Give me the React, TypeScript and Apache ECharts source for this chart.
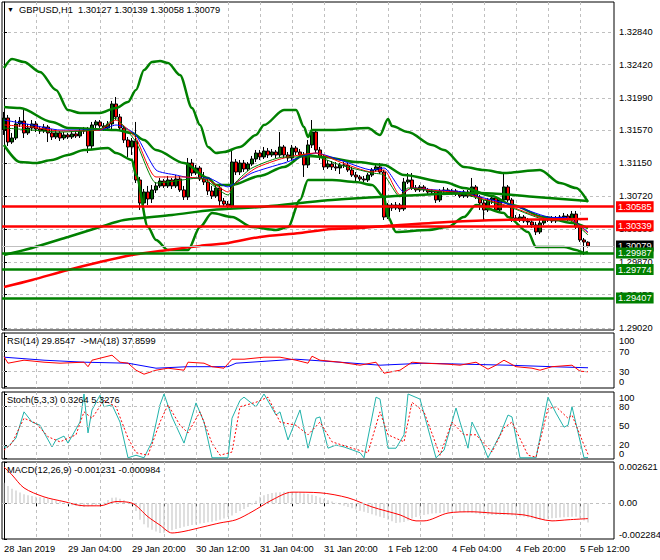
import React, { useEffect, useRef } from "react";
import * as echarts from "echarts";

const FONT = '"Liberation Sans", Arial, Helvetica, sans-serif';
const FS = 9.3;

const priceTicks = [1.2902, 1.2945, 1.2987, 1.303, 1.3072, 1.3115, 1.3157, 1.3199, 1.3242, 1.3284];
const timeLabelIdx = [0, 16, 32, 48, 64, 80, 96, 112, 128, 144];
const timeLabels = ["28 Jan 2019", "29 Jan 04:00", "29 Jan 20:00", "30 Jan 12:00", "31 Jan 04:00", "31 Jan 20:00", "1 Feb 12:00", "4 Feb 04:00", "4 Feb 20:00", "5 Feb 12:00"];
const gridIdx = [8, 16, 24, 32, 40, 48, 56, 64, 72, 80, 88, 96, 104, 112, 120, 128, 136, 144];

// [open, close, low, high] per H1 bar
const candles = [
[1.31575,1.31730,1.31511,1.31808],[1.31730,1.31420,1.31369,1.31769],[1.31420,1.31472,1.31395,1.31537],[1.31472,1.31653,1.31446,1.31704],
[1.31653,1.31691,1.31614,1.31743],[1.31691,1.31537,1.31472,1.31833],[1.31537,1.31601,1.31511,1.31653],[1.31601,1.31653,1.31562,1.31704],
[1.31653,1.31588,1.31549,1.31691],[1.31588,1.31562,1.31524,1.31627],[1.31562,1.31614,1.31537,1.31653],[1.31614,1.31537,1.31420,1.31640],
[1.31537,1.31485,1.31446,1.31588],[1.31485,1.31537,1.31459,1.31575],[1.31537,1.31472,1.31433,1.31562],[1.31472,1.31511,1.31446,1.31549],
[1.31511,1.31485,1.31459,1.31537],[1.31485,1.31524,1.31459,1.31562],[1.31524,1.31498,1.31472,1.31549],[1.31498,1.31562,1.31472,1.31601],
[1.31562,1.31575,1.31524,1.31614],[1.31575,1.31369,1.31278,1.31614],[1.31369,1.31640,1.31330,1.31679],[1.31640,1.31679,1.31601,1.31704],
[1.31679,1.31627,1.31601,1.31704],[1.31627,1.31601,1.31562,1.31666],[1.31601,1.31653,1.31575,1.31691],[1.31653,1.31911,1.31562,1.31950],
[1.31911,1.31743,1.31704,1.32001],[1.31743,1.31601,1.31562,1.31782],[1.31601,1.31446,1.31408,1.31627],[1.31446,1.31356,1.31227,1.31485],
[1.31356,1.31433,1.31253,1.31472],[1.31433,1.30930,1.30891,1.31679],[1.30930,1.30633,1.30543,1.30969],[1.30633,1.30775,1.30569,1.30814],
[1.30775,1.30685,1.30607,1.30853],[1.30685,1.30801,1.30633,1.30865],[1.30801,1.30853,1.30762,1.30904],[1.30853,1.30917,1.30827,1.30956],
[1.30917,1.30853,1.30827,1.30943],[1.30853,1.30930,1.30827,1.30982],[1.30930,1.30853,1.30814,1.30956],[1.30853,1.30943,1.30827,1.30994],
[1.30943,1.30801,1.30775,1.30982],[1.30801,1.30711,1.30672,1.30853],[1.30711,1.31149,1.30672,1.31214],[1.31149,1.31020,1.30982,1.31201],
[1.31020,1.31085,1.30994,1.31124],[1.31085,1.30943,1.30917,1.31111],[1.30943,1.30904,1.30865,1.31033],[1.30904,1.30788,1.30736,1.30943],
[1.30788,1.30723,1.30685,1.30853],[1.30723,1.30827,1.30698,1.30865],[1.30827,1.30659,1.30581,1.30853],[1.30659,1.30620,1.30594,1.30698],
[1.30620,1.30594,1.30569,1.30659],[1.30594,1.31162,1.30569,1.31317],[1.31162,1.31033,1.30994,1.31201],[1.31033,1.31149,1.30994,1.31188],
[1.31149,1.31072,1.31033,1.31188],[1.31072,1.31136,1.31046,1.31162],[1.31136,1.31201,1.31111,1.31240],[1.31201,1.31278,1.31162,1.31317],
[1.31278,1.31227,1.31188,1.31317],[1.31227,1.31304,1.31201,1.31356],[1.31304,1.31253,1.31214,1.31343],[1.31253,1.31291,1.31227,1.31330],
[1.31291,1.31253,1.31214,1.31317],[1.31253,1.31356,1.31227,1.31549],[1.31356,1.31253,1.31214,1.31382],[1.31253,1.31214,1.31175,1.31291],
[1.31214,1.31343,1.31188,1.31382],[1.31343,1.31291,1.31253,1.31369],[1.31291,1.31253,1.31214,1.31330],[1.31253,1.31124,1.30969,1.31291],
[1.31124,1.31382,1.31085,1.31446],[1.31382,1.31549,1.31343,1.31704],[1.31549,1.31317,1.31278,1.31575],[1.31317,1.31227,1.31188,1.31356],
[1.31227,1.31098,1.31059,1.31253],[1.31098,1.31136,1.31072,1.31188],[1.31136,1.31098,1.31059,1.31175],[1.31098,1.31085,1.31046,1.31162],
[1.31085,1.31124,1.31007,1.31149],[1.31124,1.31120,1.31085,1.31162],[1.31120,1.31059,1.31033,1.31149],[1.31059,1.30994,1.30969,1.31098],
[1.30994,1.30969,1.30891,1.31033],[1.30969,1.30943,1.30917,1.30994],[1.30943,1.30930,1.30904,1.30982],[1.30930,1.30994,1.30904,1.31020],
[1.30994,1.31059,1.30969,1.31085],[1.31059,1.31098,1.31033,1.31124],[1.31098,1.31033,1.31007,1.31149],[1.31033,1.30452,1.30414,1.31059],
[1.30452,1.30607,1.30427,1.30633],[1.30607,1.30569,1.30530,1.30633],[1.30569,1.30607,1.30543,1.30646],[1.30607,1.30556,1.30517,1.30633],
[1.30556,1.30904,1.30530,1.30956],[1.30904,1.30930,1.30878,1.31020],[1.30930,1.30827,1.30801,1.31020],[1.30827,1.30801,1.30775,1.30865],
[1.30801,1.30840,1.30775,1.30865],[1.30840,1.30801,1.30775,1.30865],[1.30801,1.30775,1.30749,1.30827],[1.30775,1.30788,1.30749,1.30814],
[1.30788,1.30672,1.30633,1.30801],[1.30672,1.30788,1.30646,1.30814],[1.30788,1.30801,1.30762,1.30840],[1.30801,1.30762,1.30736,1.30827],
[1.30762,1.30788,1.30736,1.30814],[1.30788,1.30749,1.30723,1.30814],[1.30749,1.30723,1.30698,1.30788],[1.30723,1.30775,1.30698,1.30801],
[1.30775,1.30723,1.30698,1.30801],[1.30723,1.30840,1.30711,1.30956],[1.30840,1.30711,1.30685,1.30865],[1.30711,1.30633,1.30543,1.30736],
[1.30633,1.30543,1.30414,1.30672],[1.30543,1.30672,1.30517,1.30698],[1.30672,1.30698,1.30620,1.30736],[1.30698,1.30543,1.30517,1.30723],
[1.30543,1.30672,1.30517,1.30698],[1.30672,1.30840,1.30646,1.31033],[1.30840,1.30672,1.30646,1.30865],[1.30672,1.30440,1.30388,1.30698],
[1.30440,1.30414,1.30388,1.30478],[1.30414,1.30452,1.30388,1.30491],[1.30452,1.30401,1.30375,1.30478],[1.30401,1.30388,1.30349,1.30440],
[1.30388,1.30349,1.30310,1.30414],[1.30349,1.30259,1.30220,1.30388],[1.30259,1.30375,1.30233,1.30414],[1.30375,1.30414,1.30349,1.30452],
[1.30414,1.30440,1.30388,1.30465],[1.30440,1.30401,1.30375,1.30465],[1.30401,1.30440,1.30375,1.30465],[1.30440,1.30452,1.30401,1.30478],
[1.30452,1.30465,1.30427,1.30504],[1.30465,1.30427,1.30401,1.30491],[1.30427,1.30491,1.30401,1.30530],[1.30491,1.30323,1.30298,1.30530],
[1.30323,1.30156,1.30130,1.30349],[1.30156,1.30130,1.29962,1.30181],[1.30127,1.30079,1.30058,1.30139]
];

// [bar index, price] samples of the indicator lines
const bbUpper = [[0,1.32375],[2,1.32492],[5,1.32453],[9,1.32324],[13,1.32092],[16,1.31833],[19,1.31795],[24,1.31795],[28,1.31859],[31,1.31937],[33,1.32092],[35,1.3235],[37,1.32453],[39,1.32466],[41,1.3244],[44,1.32285],[47,1.31859],[49,1.3164],[51,1.31356],[53,1.31278],[55,1.31291],[59,1.31356],[63,1.31511],[65,1.3164],[70,1.31833],[73,1.31833],[75,1.31614],[76,1.31485],[77,1.31575],[82,1.31575],[91,1.31601],[94,1.31511],[96,1.31717],[97,1.31627],[101,1.31549],[107,1.31382],[110,1.31317],[115,1.31098],[120,1.31059],[125,1.3102],[134,1.31059],[139,1.30891],[143,1.30827],[146,1.30646]];
const bbMiddle = [[0,1.31872],[4,1.31859],[12,1.31679],[16,1.31601],[28,1.31575],[32,1.31537],[35,1.31446],[38,1.31317],[45,1.31149],[51,1.30956],[53,1.30865],[57,1.30865],[64,1.30982],[70,1.31098],[75,1.31253],[80,1.31227],[88,1.31162],[95,1.31124],[100,1.30994],[110,1.30904],[115,1.30827],[122,1.30723],[127,1.30607],[135,1.30452],[142,1.30375],[146,1.3031]];
const bbLower = [[0,1.31382],[4,1.31162],[8,1.31149],[12,1.31188],[16,1.31253],[20,1.31317],[26,1.31343],[28,1.31278],[32,1.31188],[33,1.30994],[36,1.30323],[38,1.30156],[41,1.30027],[46,1.30027],[49,1.30323],[52,1.30504],[57,1.30452],[62,1.30323],[68,1.30285],[71,1.30323],[74,1.30672],[76,1.3093],[82,1.3093],[88,1.30904],[92,1.30865],[95,1.30711],[96,1.30452],[98,1.30259],[106,1.30285],[111,1.30323],[115,1.30452],[118,1.30607],[125,1.30504],[126,1.30452],[131,1.30259],[133,1.30066],[140,1.30066],[143,1.30027],[145,1.29988],[146,1.30001]];
const maLongGreen = [[0,1.29962],[7,1.30053],[16,1.30195],[24,1.30323],[30,1.30414],[42,1.30478],[52,1.30543],[64,1.30581],[74,1.30633],[82,1.30672],[94,1.30711],[119,1.30762],[133,1.30711],[146,1.30659]];
const maLongRed = [[0,1.29549],[7,1.2964],[16,1.29769],[24,1.29872],[32,1.29962],[41,1.30027],[49,1.30079],[56,1.30117],[64,1.30195],[74,1.30246],[82,1.30298],[89,1.3031],[99,1.30349],[111,1.30388],[124,1.30414],[146,1.30427]];
const maBlue = [[0,1.31704],[7,1.3164],[14,1.31575],[24,1.31575],[28,1.3164],[30,1.31614],[33,1.31511],[38,1.31059],[43,1.30994],[47,1.30956],[51,1.30956],[56,1.3084],[57,1.30865],[62,1.3102],[70,1.31149],[78,1.31278],[84,1.31188],[92,1.31059],[95,1.31085],[100,1.30775],[102,1.30827],[108,1.30801],[115,1.30775],[119,1.30711],[127,1.30607],[136,1.30452],[141,1.3044],[146,1.30259]];
const maRed = [[0,1.3164],[7,1.31614],[14,1.31562],[24,1.31575],[28,1.31704],[30,1.31627],[33,1.31472],[38,1.30969],[45,1.30969],[51,1.3093],[56,1.30775],[58,1.30891],[63,1.31085],[70,1.31214],[78,1.31278],[84,1.31162],[92,1.31033],[95,1.31059],[99,1.30736],[102,1.30827],[109,1.30788],[115,1.30762],[119,1.30698],[127,1.30581],[136,1.30427],[141,1.30427],[146,1.30246]];
const maGreen = [[0,1.31601],[7,1.31575],[14,1.31549],[24,1.31588],[28,1.3173],[30,1.31614],[33,1.3142],[38,1.30891],[41,1.30904],[49,1.30956],[56,1.30736],[58,1.30904],[62,1.31085],[70,1.31227],[78,1.31227],[84,1.31124],[92,1.3102],[95,1.30994],[99,1.30711],[101,1.30827],[109,1.30775],[115,1.30749],[119,1.30685],[127,1.30569],[136,1.30414],[141,1.30414],[146,1.3022]];

const redLevels = [1.30585, 1.30339];
const greenLevels = [1.29987, 1.29774, 1.29407];
const bidPrice = 1.30079;

const rsiLine = [[0,60],[1,47],[5,53],[10,49],[14,47],[20,49],[21,40],[22,53],[27,63],[29,49],[31,47],[33,33],[35,25],[38,33],[41,37],[45,33],[46,49],[50,47],[52,40],[55,37],[57,55],[60,55],[65,59],[69,59],[73,53],[76,47],[77,61],[79,53],[84,49],[89,43],[93,49],[95,27],[99,33],[102,49],[105,47],[111,45],[114,43],[118,49],[121,35],[123,43],[125,53],[128,40],[132,37],[134,33],[137,40],[142,43],[144,31],[146,29.85]];
const rsiMa = [[0,59],[10,53],[20,49],[31,47],[38,37],[46,40],[56,40],[58,47],[73,55],[84,49],[94,43],[105,47],[115,45],[126,43],[137,40],[146,37.86]];
const rsiLevels = [30, 70];
const rsiTicks = [0, 30, 70, 100];

const stochMain = [[0,17],[1,17],[3,31],[5,72],[7,56],[9,51],[12,17],[13,28],[15,34],[16,23],[19,56],[20,100],[21,39],[22,75],[24,98],[25,80],[27,83],[29,56],[31,0],[33,4],[35,0],[37,25],[39,83],[40,100],[42,64],[45,23],[48,86],[50,56],[52,0],[56,0],[57,62],[59,90],[60,95],[63,80],[65,100],[68,67],[69,72],[71,28],[74,75],[76,15],[78,62],[79,64],[81,15],[83,20],[85,17],[89,8],[90,0],[93,95],[94,92],[96,15],[98,15],[100,36],[101,100],[104,92],[108,0],[110,12],[113,78],[114,56],[116,15],[117,56],[119,31],[121,0],[124,36],[126,67],[127,64],[129,0],[133,0],[136,95],[138,70],[140,48],[141,51],[142,80],[145,0],[146,0.33]];
const stochSignal = [[0,12],[2,23],[5,62],[8,54],[11,33],[14,25],[18,36],[20,72],[22,62],[25,90],[28,80],[31,31],[33,8],[36,4],[39,56],[41,83],[44,51],[46,39],[49,72],[52,23],[54,4],[57,9],[59,80],[63,87],[66,95],[69,56],[73,51],[76,36],[79,56],[82,25],[87,15],[91,8],[94,72],[96,36],[100,25],[102,87],[105,72],[109,4],[112,56],[115,36],[118,36],[122,9],[125,47],[127,56],[131,4],[133,1],[136,77],[138,80],[141,62],[142,67],[145,20],[146,5.33]];
const stochLevels = [20, 50, 80];
const stochTicks = [0, 20, 50, 80, 100];

const macdHist = [
0.0013,0.0011,0.00092,0.0008,0.00068,0.00056,0.0005,0.00045,0.0004,0.00037,
0.00034,0.0003,0.00024,0.00016,0.0001,0.00002,-0.00008,-0.00014,-0.00018,-0.00022,
-0.00024,-0.00022,-0.00018,-0.00014,-0.0001,0.00004,0.0002,0.00034,0.00036,0.00028,
0.0002,0.00008,-0.0001,-0.0005,-0.00106,-0.00135,-0.00155,-0.0017,-0.0018,-0.0019,
-0.00188,-0.0018,-0.00172,-0.00165,-0.00158,-0.0015,-0.00145,-0.0014,-0.00136,-0.0013,
-0.00126,-0.00122,-0.00118,-0.00112,-0.00106,-0.00098,-0.00088,-0.00078,-0.00063,-0.0005,
-0.00038,-0.00024,-0.0001,0.00015,0.0004,0.0005,0.00058,0.00064,0.00068,0.0007,
0.00072,0.00072,0.00071,0.0007,0.00066,0.00062,0.00058,0.00053,0.00045,0.00036,
0.00026,0.00018,0.0001,0.00002,-0.00008,-0.00016,-0.00024,-0.00032,-0.0004,-0.00048,
-0.00055,-0.00062,-0.0007,-0.00078,-0.00087,-0.00095,-0.00105,-0.00116,-0.00126,-0.00124,
-0.0012,-0.0011,-0.00098,-0.00088,-0.0008,-0.00075,-0.0007,-0.00066,-0.00064,-0.00063,
-0.0006,-0.00058,-0.00056,-0.00055,-0.00056,-0.00058,-0.0006,-0.00063,-0.00066,-0.0007,
-0.00072,-0.00074,-0.00075,-0.00075,-0.00075,-0.00075,-0.00075,-0.00078,-0.00082,-0.00085,
-0.00087,-0.00092,-0.00098,-0.00102,-0.00106,-0.00104,-0.001,-0.00096,-0.00094,-0.00092,
-0.0009,-0.00088,-0.00087,-0.00087,-0.00095,-0.0011,-0.001231
];
const macdSignal = [[0,0.0023],[2,0.0018],[5,0.00097],[10,0.0004],[15,0.0001],[20,-0.00017],[24,-0.00017],[28,0.0001],[32,0],[36,-0.00087],[39,-0.0014],[42,-0.0019],[45,-0.0018],[50,-0.0015],[54,-0.00126],[58,-0.00106],[62,-0.00055],[67,0.0002],[72,0.0007],[79,0.00066],[86,0.00034],[92,-0.00024],[99,-0.00075],[103,-0.00113],[105,-0.00113],[111,-0.00063],[117,-0.00055],[122,-0.00063],[130,-0.00075],[137,-0.00113],[141,-0.00106],[146,-0.000984]];
const macdTicks = [-0.002284, 0, 0.002621];

const GRID_LINE = { color: "#C0C0C0", type: [3, 3] as any, width: 1 };

function line(data: any, color: string, width: number, idx: number, extra: any = {}) {
  return {
    type: "line", data, xAxisIndex: idx, yAxisIndex: idx, showSymbol: false, symbol: "none",
    lineStyle: { color, width }, itemStyle: { color }, silent: true, animation: false, ...extra,
  };
}

function levelLine(values: number[], lineColor: string, boxColor: string, width: number) {
  return {
    silent: true, symbol: ["none", "none"], animation: false, precision: 5,
    data: values.map((v) => ({ yAxis: v })),
    lineStyle: { color: lineColor, width, type: "solid" },
    emphasis: { disabled: true },
    label: {
      show: true, position: "end", distance: 2,
      formatter: (p: any) => Number(p.value).toFixed(5),
      color: "#fff", backgroundColor: boxColor, padding: [1, 2, 0, 2],
      fontSize: FS, fontFamily: FONT, lineHeight: 10,
    },
  };
}

function dashedLevels(values: number[]) {
  return {
    silent: true, symbol: ["none", "none"], animation: false, precision: 6,
    data: values.map((v) => ({ yAxis: v })),
    lineStyle: GRID_LINE, label: { show: false }, emphasis: { disabled: true },
  };
}

function buildOption() {
  const grids = [
    { top: 2, height: 328 },
    { top: 333, height: 55 },
    { top: 392, height: 67 },
    { top: 462, height: 77 },
  ].map((g) => ({
    left: 2, width: 612, top: g.top, height: g.height, show: true,
    borderColor: "#000", borderWidth: 1, backgroundColor: "#fff", outerBoundsMode: "none", containLabel: false,
  }));

  const xAxes = [0, 1, 2, 3].map((k) => ({
    type: "value", gridIndex: k, min: -0.5, max: 152.5, interval: 8,
    axisLine: { show: false },
    axisTick: { show: k === 3, customValues: gridIdx, length: 3, lineStyle: { color: "#000" } },
    axisLabel: k === 3
      ? {
          show: true, customValues: timeLabelIdx, align: "left", margin: 5, color: "#000",
          fontSize: FS, fontFamily: FONT, hideOverlap: false, showMinLabel: true, showMaxLabel: true,
          formatter: (v: number) => timeLabels[timeLabelIdx.indexOf(Math.round(v))] ?? "",
        }
      : { show: false },
    splitLine: { show: true, lineStyle: GRID_LINE },
  }));

  const labelBase = {
    color: "#000", fontSize: FS, fontFamily: FONT, margin: 5, hideOverlap: false,
    showMinLabel: true, showMaxLabel: true,
  };
  const yAxes = [
    {
      type: "value", gridIndex: 0, position: "right", min: 1.28994, max: 1.33227,
      axisLine: { show: true, lineStyle: { color: "#000" } },
      axisTick: { show: true, length: 3, customValues: priceTicks, lineStyle: { color: "#000" } },
      axisLabel: { ...labelBase, customValues: priceTicks, formatter: (v: number) => v.toFixed(5) },
      splitLine: { show: true, lineStyle: GRID_LINE },
    },
    {
      type: "value", gridIndex: 1, position: "right", min: -2.6, max: 107.4,
      axisLine: { show: true, lineStyle: { color: "#000" } },
      axisTick: { show: true, length: 3, customValues: rsiTicks, lineStyle: { color: "#000" } },
      axisLabel: { ...labelBase, customValues: rsiTicks, verticalAlignMinLabel: "bottom", verticalAlignMaxLabel: "top", formatter: (v: number) => String(Math.round(v)) },
      splitLine: { show: false },
    },
    {
      type: "value", gridIndex: 2, position: "right", min: -1.9, max: 103.1,
      axisLine: { show: true, lineStyle: { color: "#000" } },
      axisTick: { show: true, length: 3, customValues: stochTicks, lineStyle: { color: "#000" } },
      axisLabel: {
        ...labelBase, customValues: stochTicks, lineHeight: 7.5,
        verticalAlignMinLabel: "bottom", verticalAlignMaxLabel: "top",
        formatter: (v: number) => String(Math.round(v)),
      },
      splitLine: { show: false },
    },
    {
      type: "value", gridIndex: 3, position: "right", min: -0.002284, max: 0.002621,
      axisLine: { show: true, lineStyle: { color: "#000" } },
      axisTick: { show: true, length: 3, customValues: macdTicks, lineStyle: { color: "#000" } },
      axisLabel: {
        ...labelBase, customValues: macdTicks, verticalAlignMinLabel: "bottom", verticalAlignMaxLabel: "top",
        formatter: (v: number) => (Math.abs(v) < 1e-9 ? "0.00" : v.toFixed(6)),
      },
      splitLine: { show: false },
    },
  ];

  const titleStyle = { fontSize: FS, fontWeight: "normal", color: "#000", fontFamily: FONT };

  return {
    animation: false,
    backgroundColor: "#fff",
    textStyle: { fontFamily: FONT, fontSize: FS },
    title: [
      {
        text: "{t|▼}  GBPUSD,H1  1.30127 1.30139 1.30058 1.30079", left: 7, top: 5, padding: 0,
        textStyle: { ...titleStyle, rich: { t: { fontSize: 7, color: "#000", fontFamily: FONT } } },
      },
      { text: "RSI(14) 29.8547  ->MA(18) 37.8599", left: 7, top: 336, padding: 0, textStyle: titleStyle },
      { text: "Stoch(5,3,3) 0.3264 5.3276", left: 7, top: 395, padding: 0, textStyle: titleStyle },
      { text: "MACD(12,26,9) -0.001231 -0.000984", left: 7, top: 465, padding: 0, textStyle: titleStyle },
    ],
    grid: grids,
    xAxis: xAxes,
    yAxis: yAxes,
    series: [
      {
        type: "candlestick", xAxisIndex: 0, yAxisIndex: 0, silent: true, animation: false,
        data: candles.map((c, i) => [i, c[0], c[1], c[2], c[3]]),
        barWidth: 3,
        itemStyle: { color: "#006400", color0: "#FF0000", borderColor: "#000", borderColor0: "#000", borderWidth: 1 },
        markLine: levelLine([bidPrice], "#C0C0C0", "#000", 1),
      },
      line(bbUpper, "#008000", 2.5, 0, { smooth: 0.3, smoothMonotone: "x" }),
      line(bbMiddle, "#008000", 2.5, 0, { smooth: 0.3, smoothMonotone: "x" }),
      line(bbLower, "#008000", 2.5, 0, { smooth: 0.3, smoothMonotone: "x" }),
      line(maBlue, "#0000FF", 1, 0, { smooth: 0.2 }),
      line(maRed, "#FF0000", 1, 0, { smooth: 0.2 }),
      line(maGreen, "#008000", 1, 0, { smooth: 0.2 }),
      line(maLongRed, "#FF0000", 2.5, 0, { smooth: 0.3, markLine: levelLine(redLevels, "#FF0000", "#FF0000", 2.5) }),
      line(maLongGreen, "#008000", 2.5, 0, { smooth: 0.3, markLine: levelLine(greenLevels, "#008000", "#008000", 2.5) }),
      line(rsiMa, "#0000FF", 1, 1, { markLine: dashedLevels(rsiLevels) }),
      line(rsiLine, "#FF0000", 1, 1),
      line(stochMain, "#20B2AA", 1, 2, { markLine: dashedLevels(stochLevels) }),
      line(stochSignal, "#FF0000", 1, 2, { lineStyle: { color: "#FF0000", width: 1, type: [2, 2] } }),
      {
        type: "bar", xAxisIndex: 3, yAxisIndex: 3, silent: true, animation: false,
        data: macdHist.map((v, i) => [i, v]), barWidth: 1,
        itemStyle: { color: "#C0C0C0" },
        markLine: dashedLevels([0]),
      },
      line(macdSignal, "#FF0000", 1, 3, { smooth: 0.3 }),
    ],
  };
}

export default function App() {
  const ref = useRef<HTMLDivElement>(null);
  useEffect(() => {
    if (!ref.current) return;
    const chart = echarts.init(ref.current, null, { renderer: "svg" });
    chart.setOption(buildOption() as any);
    return () => chart.dispose();
  }, []);
  return (
    <div
      ref={ref}
      style={{ position: "absolute", left: 0, top: 0, width: 660, height: 560, background: "#fff" }}
    />
  );
}
